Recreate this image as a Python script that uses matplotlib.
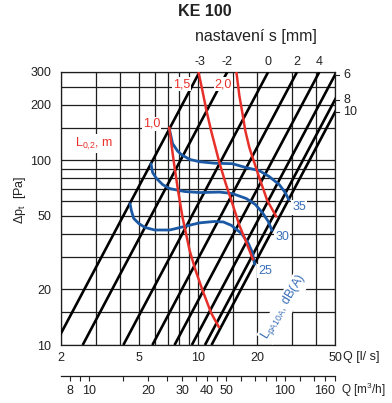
import numpy as np
import matplotlib.pyplot as plt
from matplotlib.ticker import NullFormatter

plt.rcParams['font.family'] = ['Liberation Sans', 'DejaVu Sans']
plt.rcParams['mathtext.fontset'] = 'custom'
plt.rcParams['mathtext.rm'] = 'Liberation Sans'
plt.rcParams['mathtext.it'] = 'Liberation Sans:italic'

# damper setting s [mm]: flow Q [l/s] where each line crosses 10 Pa and 300 Pa
settings = ['-3', '-2', '0', '2', '4', '6', '8', '10']
q_10pa = [1.86, 2.58, 4.16, 5.85, 7.59, 9.30, 10.85, 11.72]
q_300pa = [10.18, 14.1, 22.8, 32.0, 41.6, 50.9, 59.4, 64.2]

# throw L0,2 [m]
throw_labels = ['1,0', '1,5', '2,0']
throw_q = [
    [7.12, 7.51, 7.91, 8.34, 9.06, 9.71, 10.54, 11.67, 12.86],
    [10.06, 10.54, 11.05, 11.67, 12.28, 12.86, 13.80, 14.80, 16.26, 17.64, 19.15],
    [15.70, 16.26, 16.84, 17.44, 18.28, 19.38, 20.54, 22.56, 25.22],
]
throw_dp = [
    [152, 99.4, 68.5, 49.0, 32.5, 25.4, 19.8, 14.9, 12.35],
    [300, 237, 185, 144, 117, 96.9, 75.6, 60.5, 44.4, 35.9, 28.7],
    [300, 223, 180, 144, 117, 96.9, 80.5, 60.5, 49.0],
]

# sound level LpA [dB(A)]
sound_labels = ['25', '30', '35']
sound_q = [
    [4.49, 4.57, 4.70, 4.98, 5.35, 6.01, 7.17, 8.54, 10.18, 12.13, 13.48, 14.80, 16.64, 18.06, 18.93, 19.49],
    [5.74, 5.87, 6.15, 6.60, 7.17, 8.54, 10.18, 12.86, 14.97, 17.64, 19.61, 21.28, 22.83, 23.93],
    [7.12, 7.42, 7.87, 8.25, 9.06, 10.18, 12.13, 14.97, 17.64, 20.54, 23.09, 25.97, 27.86, 29.20],
]
sound_dp = [
    [59.0, 53.4, 48.4, 45.5, 43.3, 41.9, 41.9, 43.8, 45.8, 46.6, 46.3, 44.4, 40.2, 35.5, 31.7, 27.0],
    [96.9, 85.6, 79.5, 73.8, 70.2, 67.7, 66.8, 67.2, 66.0, 62.0, 57.6, 52.1, 46.6, 41.2],
    [150, 123, 112, 107, 101, 98.1, 96.3, 95.7, 91.1, 87.8, 81.5, 73.8, 66.8, 60.5],
]

x_major = [2, 5, 10, 20, 50]
x_minor = [3, 4, 6, 7, 8, 9, 15, 30, 40]
y_major = [10, 20, 50, 100, 200, 300]
y_minor = [15, 30, 40, 60, 70, 80, 90, 150, 250]
m3h_major = [8, 10, 20, 30, 40, 50, 100, 160]
m3h_minor = [9, 15, 25, 35, 45, 60, 70, 80, 90, 120, 140, 180]

RED = '#e8302a'
BLUE = '#1b59a5'
BLUE_TXT = '#3a70b8'
GRID = '#1e1e1e'
FS = 9

fig = plt.figure(figsize=(3.92, 4.03), dpi=100)
ax = fig.add_axes([61 / 392, 58 / 403, 274 / 392, 273 / 403])
ax.set_xscale('log')
ax.set_yscale('log')
ax.set_xlim(2, 50)
ax.set_ylim(10, 300)

ax.set_xticks(x_major)
ax.set_xticklabels([str(v) for v in x_major])
ax.set_xticks(x_minor, minor=True)
ax.set_yticks(y_major)
ax.set_yticklabels([str(v) for v in y_major])
ax.set_yticks(y_minor, minor=True)
ax.xaxis.set_minor_formatter(NullFormatter())
ax.yaxis.set_minor_formatter(NullFormatter())
ax.tick_params(which='both', length=0, labelsize=FS, colors='#222222')
ax.tick_params(axis='x', pad=5)
ax.tick_params(axis='y', pad=7)
ax.grid(True, which='both', color=GRID, lw=0.9)
ax.set_axisbelow(True)
for sp in ax.spines.values():
    sp.set_color(GRID)
    sp.set_linewidth(0.9)

# setting lines
for i, s in enumerate(settings):
    ax.plot([q_10pa[i], q_300pa[i]], [10, 300], color='black', lw=1.9,
            solid_capstyle='butt', zorder=3)
    if q_300pa[i] <= 50:
        ax.annotate(s, (q_300pa[i], 300), xytext=(0, 3), textcoords='offset points',
                    ha='center', va='bottom', fontsize=FS, color='#222222',
                    annotation_clip=False)
    else:
        # pressure where the line meets the right edge
        dp_end = np.exp(np.interp(np.log(50), np.log([q_10pa[i], q_300pa[i]]),
                                  np.log([10, 300])))
        ax.plot([50, 52.5], [dp_end, dp_end], color='#222222', lw=0.8, clip_on=False)
        ax.annotate(s, (50, dp_end), xytext=(6, 0), textcoords='offset points',
                    ha='left', va='center', fontsize=FS, color='#222222',
                    annotation_clip=False)

# sound curves
for i in range(len(sound_labels)):
    ax.plot(sound_q[i], sound_dp[i], color=BLUE, lw=2.0, zorder=4,
            solid_capstyle='butt')

# throw curves
for i in range(len(throw_labels)):
    ax.plot(throw_q[i], throw_dp[i], color=RED, lw=1.8, zorder=5,
            solid_capstyle='butt')

box = dict(fc='white', ec='none', pad=0.8)
ax.text(5.80, 157, '1,0', color=RED, fontsize=FS, ha='center', va='center', bbox=box, zorder=6)
ax.text(8.25, 258, '1,5', color=RED, fontsize=FS, ha='center', va='center', bbox=box, zorder=6)
ax.text(13.48, 258, '2,0', color=RED, fontsize=FS, ha='center', va='center', bbox=box, zorder=6)
ax.text(2.36, 123, '$\\mathregular{L_{0{,}2}}$, m', color=RED, fontsize=FS,
        ha='left', va='center', bbox=box, zorder=6)

ax.text(32.8, 55.5, '35', color=BLUE_TXT, fontsize=FS, ha='center', va='center', bbox=box, zorder=6)
ax.text(26.9, 38.2, '30', color=BLUE_TXT, fontsize=FS, ha='center', va='center', bbox=box, zorder=6)
ax.text(22.0, 25.1, '25', color=BLUE_TXT, fontsize=FS, ha='center', va='center', bbox=box, zorder=6)
ax.text(27.5, 16.0, '$\\mathregular{L_{pA10A}}$, dB(A)', color=BLUE_TXT, fontsize=FS,
        rotation=59, ha='center', va='center', bbox=box, zorder=6)

# second flow axis in m3/h
sec = ax.secondary_xaxis(-31 / 273, functions=(lambda q: q * 3.6, lambda v: v / 3.6))
sec.set_xticks(m3h_major)
sec.set_xticklabels([str(v) for v in m3h_major])
sec.set_xticks(m3h_minor, minor=True)
sec.xaxis.set_minor_formatter(NullFormatter())
sec.tick_params(which='both', length=3.5, width=0.8, labelsize=FS, pad=3, colors='#222222')
sec.spines['bottom'].set_linewidth(0.9)
sec.spines['bottom'].set_color(GRID)

fig.text(343 / 392, 1 - 357 / 403, 'Q [l/ s]', fontsize=FS, ha='left', va='center', color='#222222')
fig.text(341 / 392, 1 - 390 / 403, 'Q [m$^3$/h]', fontsize=8.5, ha='left', va='center', color='#222222')
fig.text(20 / 392, 1 - 200 / 403, 'Δp$_\\mathregular{t}$  [Pa]', fontsize=FS, rotation=90,
         ha='center', va='center', color='#222222')

fig.text(205 / 392, 1 - 12 / 403, 'KE 100', fontsize=11.5, fontweight='bold',
         ha='center', va='center', color='#222222')
fig.text(256 / 392, 1 - 36 / 403, 'nastavení s [mm]', fontsize=11.5,
         ha='center', va='center', color='#222222')

fig.savefig('out.png', dpi=100)
